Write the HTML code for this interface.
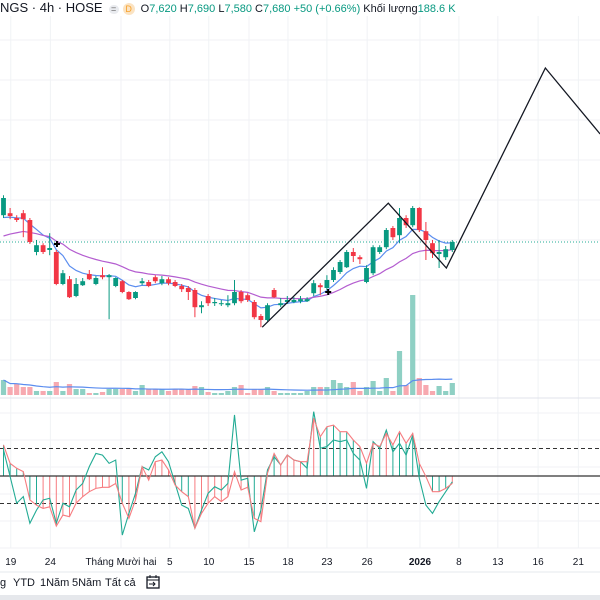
<!DOCTYPE html>
<html><head><meta charset="utf-8"><style>
html,body{margin:0;padding:0;background:#fff;width:600px;height:600px;overflow:hidden;font-family:"Liberation Sans","Noto Sans CJK SC",sans-serif}
#hdr{position:absolute;left:0;top:0;height:16px;font-size:11px;line-height:16px;white-space:nowrap;color:#131722}
#hdr .t{font-size:13px;margin-right:6px}
#hdr .g{color:#089981}
#hdr .pill{display:inline-block;background:#e9ebef;border-radius:6px;width:10px;height:9px;line-height:9px;font-size:9px;text-align:center;color:#666;vertical-align:middle}
#hdr .d{display:inline-block;background:#fbe3c2;color:#f7a02a;border-radius:50%;width:12px;height:12px;line-height:12px;font-size:9px;text-align:center;vertical-align:middle;margin:0 6px 0 1px}
#tb{position:absolute;left:0;top:574px;height:20px;font-size:11px;color:#131722;white-space:nowrap}
#tb span{position:absolute;top:3px}
#foot{position:absolute;left:0;top:595px;width:600px;height:5px;background:#e6e8ec}
</style></head><body>
<svg id="chart" width="600" height="600" style="position:absolute;left:0;top:0"></svg>
<div id="hdr"><span class="t">NGS · 4h · HOSE</span><span class="pill">=</span> <span class="d">D</span>O<span class="g">7,620</span> H<span class="g">7,690</span> L<span class="g">7,580</span> C<span class="g">7,680</span> <span class="g">+50 (+0.66%)</span> Khối lượng<span class="g">188.6 K</span></div>
<div id="tb">
<span style="left:0">g</span>
<span style="left:13px">YTD</span>
<span style="left:40px">1Năm</span>
<span style="left:72px">5Năm</span>
<span style="left:105px">Tất cả</span>
<span style="left:146px;top:0"><svg width="14" height="16"><rect x="1" y="3" width="12" height="11" fill="none" stroke="#131722" stroke-width="1.3"/><line x1="1" y1="6" x2="13" y2="6" stroke="#131722"/><line x1="4" y1="1" x2="4" y2="4" stroke="#131722"/><line x1="10" y1="1" x2="10" y2="4" stroke="#131722"/><path d="M3 10 H9 M7 8 L9 10 L7 12" stroke="#131722" fill="none"/></svg></span>
</div>
<div id="foot"></div>
<script>
const opens=[7752,7757,7745,7757,7740,7660,7677,7665,7660,7580,7592,7550,7577,7605,7580,7602,7597,7575,7587,7560,7545,7582,7585,7597,7582,7592,7585,7575,7570,7565,7522,7550,7532,7530,7527,7532,7560,7552,7535,7500,7490,7565,7527,7535,7535,7537,7537,7557,7577,7570,7590,7610,7622,7660,7647,7585,7607,7660,7672,7720,7702,7745,7727,7770,7712,7682,7655,7647,7665];
const highs=[7802,7770,7752,7765,7745,7690,7682,7707,7665,7615,7600,7595,7595,7615,7600,7622,7605,7597,7590,7562,7562,7595,7590,7602,7600,7597,7590,7580,7575,7570,7537,7555,7545,7540,7552,7590,7565,7557,7540,7505,7532,7570,7545,7550,7547,7550,7547,7590,7582,7602,7622,7640,7665,7670,7652,7627,7677,7677,7720,7725,7770,7752,7775,7772,7735,7690,7690,7675,7690];
const lows=[7745,7742,7735,7697,7680,7652,7655,7652,7577,7577,7545,7547,7575,7590,7577,7592,7492,7572,7557,7540,7542,7577,7572,7582,7577,7577,7572,7560,7540,7497,7507,7525,7525,7525,7522,7527,7532,7535,7492,7472,7487,7545,7522,7530,7532,7532,7535,7550,7552,7565,7585,7605,7620,7635,7630,7582,7602,7655,7667,7690,7682,7720,7722,7710,7640,7645,7620,7640,7660];
const closes=[7795,7750,7740,7742,7685,7677,7660,7670,7580,7607,7547,7580,7587,7592,7595,7597,7602,7595,7560,7542,7560,7587,7575,7587,7592,7582,7575,7567,7560,7522,7527,7532,7535,7532,7532,7560,7537,7540,7497,7490,7527,7547,7532,7540,7540,7542,7542,7582,7572,7590,7615,7635,7660,7650,7642,7620,7672,7672,7715,7697,7745,7727,7770,7715,7690,7657,7660,7667,7685];
const volumes=[30,16,22,16,16,8,8,8,26,8,22,12,12,4,4,6,12,12,12,12,8,20,12,12,12,8,12,12,12,18,16,6,4,4,8,16,20,4,12,12,16,8,4,4,4,4,8,16,16,16,30,24,16,26,8,16,28,8,34,8,88,20,200,34,20,8,18,8,24];
const oscA=[95,-2,-99,-75,-172,-124,-87,-81,-172,-99,-112,-51,-27,34,82,76,46,58,-215,-136,-63,34,22,70,88,52,-27,-106,-118,-190,-124,-63,-39,-51,-27,222,-15,-8,-203,-124,22,70,40,76,58,52,28,234,101,107,131,125,131,82,58,-45,125,101,167,88,119,76,149,-8,-106,-136,-93,-57,-21];
const oscB=[113,46,28,16,-87,-106,-118,-112,-182,-142,-148,-99,-75,-57,-45,-41,-41,-27,-99,-154,-87,34,-15,52,58,22,-33,-57,-75,-190,-136,-99,-75,-93,-75,16,-51,-41,-154,-166,10,82,40,76,58,52,52,210,143,179,185,161,161,131,107,46,119,107,155,113,161,119,155,46,-2,-57,-57,-45,-27];
const tickLabels=["19","24","Tháng Mười hai","5","10","15","18","23","26","2026","8","13","16","21"];
const tickIdx=[1.1,7.1,17.8,25.2,31.1,37.2,43.1,49.0,55.1,63.1,69.0,74.9,81.0,87.1];
const zigIdx=[39.2,58.3,67.1,82.1,90.4];
const zigPrice=[7472,7782,7620,8120,7955];
const crossIdx=[8.1,49.2];
const crossPrice=[7680,7560];

const NS="http://www.w3.org/2000/svg";
const svg=document.getElementById('chart');
function mk(tag,attrs,parent){const e=document.createElementNS(NS,tag);for(const k in attrs)e.setAttribute(k,attrs[k]);(parent||svg).appendChild(e);return e;}
const X=i=>3.5+6.6*i;
const Y=p=>244-(p-7680)/2.5;
const VY=v=>395-v/2;
const OY=v=>476-v*0.275;
const GREEN="#089981",RED="#f23645";

const grid=mk('g',{});


tickIdx.forEach(t=>mk('line',{x1:X(t),x2:X(t),y1:16,y2:548,stroke:"#f0f2f5","stroke-width":1},grid));
[40,80,120,160,200,240,280,320,360].forEach(y=>mk('line',{x1:0,x2:600,y1:y,y2:y,stroke:"#f0f2f5"},grid));
[413,440,467,494,521].forEach(y=>mk('line',{x1:0,x2:600,y1:y,y2:y,stroke:"#f0f2f5"},grid));

const vg=mk('g',{});


volumes.forEach((v,i)=>{const up=closes[i]>=opens[i];
 const r=mk('rect',{x:X(i)-2.6,y:VY(v),width:5.2,height:395-VY(v),fill:up?"#8fd0c4":"#f7a9b0"},vg);
 
 });
let vma=[];volumes.forEach((v,i)=>{const s=volumes.slice(Math.max(0,i-19),i+1);vma.push(s.reduce((a,b)=>a+b,0)/s.length);});
const vml=mk('polyline',{points:vma.map((v,i)=>X(i)+","+VY(v)).join(" "),fill:"none",stroke:"#5b8def","stroke-width":1.2});



const lp=mk('line',{x1:0,x2:600,y1:Y(closes[closes.length-1]),y2:Y(closes[closes.length-1]),stroke:"#22ab94","stroke-dasharray":"1 2","stroke-width":1});



function ema(n,seed){let out=[],e=seed,k=2/(n+1);closes.forEach(c=>{e=c*k+e*(1-k);out.push(e);});return out;}
const fast=ema(7,7730),slow=ema(20,7690);
const mf=mk('polyline',{points:fast.map((v,i)=>X(i)+","+Y(v)).join(" "),fill:"none",stroke:"#5b8def","stroke-width":1.2});


const ms=mk('polyline',{points:slow.map((v,i)=>X(i)+","+Y(v)).join(" "),fill:"none",stroke:"#b45dd0","stroke-width":1.2});



const cg=mk('g',{});


opens.forEach((o,i)=>{const c=closes[i],up=c>=o,col=up?GREEN:RED;
 const g=mk('g',{},cg);
 
 
 mk('line',{x1:X(i),x2:X(i),y1:Y(highs[i]),y2:Y(lows[i]),stroke:col,"stroke-width":1},g);
 const t=Y(Math.max(o,c)),b=Y(Math.min(o,c));
 mk('rect',{x:X(i)-2.4,y:t,width:4.8,height:Math.max(1,b-t),fill:col},g);});

const zz=mk('polyline',{points:zigIdx.map((t,i)=>X(t)+","+Y(zigPrice[i])).join(" "),fill:"none",stroke:"#131722","stroke-width":1.3});


crossIdx.forEach((t,i)=>{const x=X(t),y=Y(crossPrice[i]);
 const p=mk('path',{d:`M${x-3} ${y}H${x+3}M${x} ${y-3}V${y+3}`,stroke:"#000","stroke-width":2});
 
 });

const sep=mk('line',{x1:0,x2:600,y1:398,y2:398,stroke:"#e0e3eb"});



const og=mk('g',{});


[100,-100].forEach(v=>{const l=mk('line',{x1:0,x2:600,y1:OY(v),y2:OY(v),stroke:"#333","stroke-dasharray":"4 3","stroke-width":1},og);
 
 });
oscB.forEach((v,i)=>{const l=mk('line',{x1:X(i),x2:X(i),y1:OY(0),y2:OY(v),stroke:oscA[i]<v?"#22ab94":"#f77c80","stroke-width":1},og);
 
 });
const zl=mk('line',{x1:0,x2:600,y1:OY(0),y2:OY(0),stroke:"#333","stroke-width":1.2},og);


const la=mk('polyline',{points:oscA.map((v,i)=>X(i)+","+OY(v)).join(" "),fill:"none",stroke:"#22ab94","stroke-width":1.1},og);


const lb=mk('polyline',{points:oscB.map((v,i)=>X(i)+","+OY(v)).join(" "),fill:"none",stroke:"#f77c80","stroke-width":1.1},og);



const ax=mk('line',{x1:0,x2:600,y1:548,y2:548,stroke:"#f0f2f5"});


tickLabels.forEach((s,i)=>{const t=mk('text',{x:X(tickIdx[i]),y:565,"text-anchor":"middle","font-size":"10","font-family":"Liberation Sans, sans-serif",fill:"#131722","font-weight":s==="2026"?"bold":"normal"});
 t.textContent=s;
 
 });
const tl=mk('line',{x1:0,x2:600,y1:572,y2:572,stroke:"#e6e8ec"});


</script>
</body></html>
